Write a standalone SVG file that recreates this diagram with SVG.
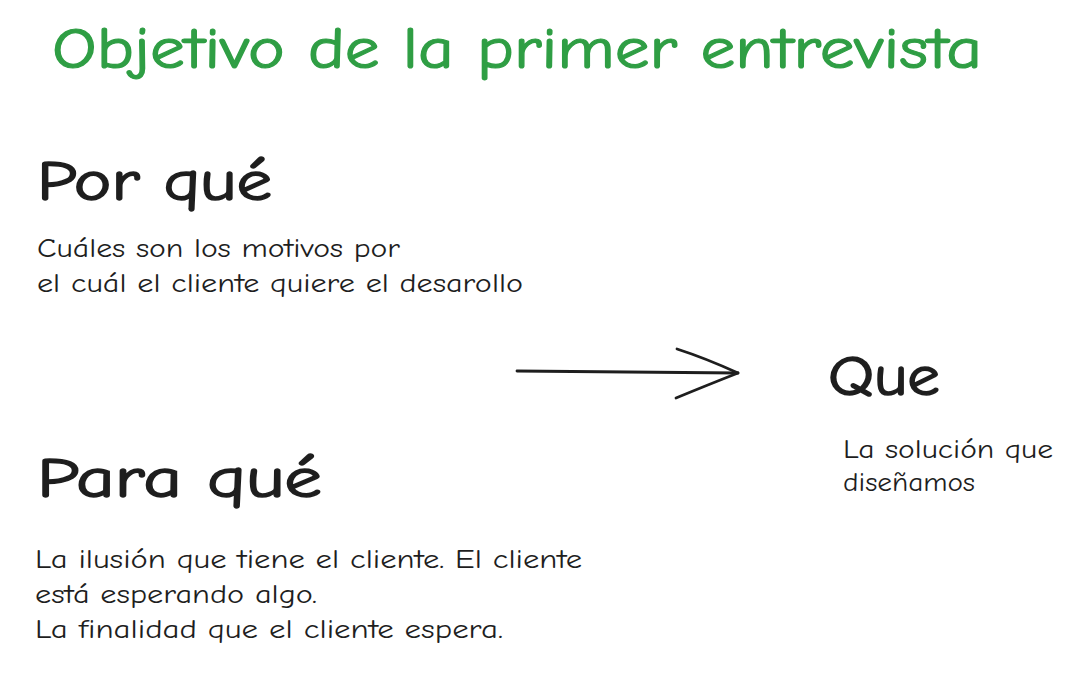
<svg xmlns="http://www.w3.org/2000/svg" width="1090" height="686" viewBox="0 0 1090 686">
<style>
text{font-family:"Comic Neue","Liberation Sans","DejaVu Sans",sans-serif;fill:#1e1e1e}
.title{fill:#2f9e44;stroke:#2f9e44;stroke-width:1.2;font-size:58px}
.head{font-size:56px;stroke:#1e1e1e;stroke-width:1.5}
.body{font-size:26px}
.conn{fill:none;stroke:#1e1e1e;stroke-width:2.8;stroke-linecap:round;stroke-linejoin:round}
</style>
<rect width="1090" height="686" fill="#ffffff"/>
<g id="title"><text class="title" x="52" y="68" textLength="930" lengthAdjust="spacingAndGlyphs">Objetivo de la primer entrevista</text></g>
<g id="por-que">
<text class="head" x="37" y="200" textLength="235" lengthAdjust="spacingAndGlyphs">Por qué</text>
<text class="body" x="37" y="257" textLength="363" lengthAdjust="spacingAndGlyphs">Cuáles son los motivos por</text>
<text class="body" x="37" y="292" textLength="486" lengthAdjust="spacingAndGlyphs">el cuál el cliente quiere el desarollo</text>
</g>
<g id="para-que">
<text class="head" x="37" y="497" textLength="285" lengthAdjust="spacingAndGlyphs">Para qué</text>
<text class="body" x="35" y="568" textLength="547" lengthAdjust="spacingAndGlyphs">La ilusión que tiene el cliente. El cliente</text>
<text class="body" x="35" y="603" textLength="282" lengthAdjust="spacingAndGlyphs">está esperando algo.</text>
<text class="body" x="35" y="638" textLength="468" lengthAdjust="spacingAndGlyphs">La finalidad que el cliente espera.</text>
</g>
<g id="que">
<text class="head" x="828" y="395" textLength="112" lengthAdjust="spacingAndGlyphs">Que</text>
<text class="body" x="843" y="458" textLength="210" lengthAdjust="spacingAndGlyphs">La solución que</text>
<text class="body" x="843" y="491" textLength="132" lengthAdjust="spacingAndGlyphs">diseñamos</text>
</g>
<g id="connectors">
<path class="conn" d="M517 371 Q620 371.5 738 373"/>
<path class="conn" d="M677 349 Q705 358 738 373 M676 398 Q705 386 738 373"/>
</g>
</svg>
